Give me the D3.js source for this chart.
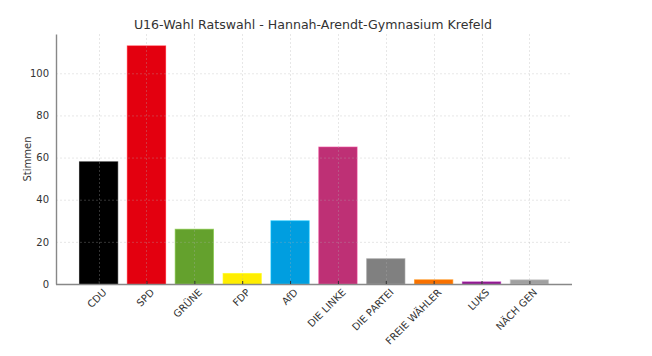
<!DOCTYPE html>
<html><head><meta charset="utf-8">
<script src="https://cdn.jsdelivr.net/npm/d3@7"></script>
<style>body{margin:0;background:#fff}svg{display:block}</style>
</head><body><svg id="c" width="652" height="356"></svg>
<script>
const categories = ["CDU","SPD","GRÜNE","FDP","AfD","DIE LINKE","DIE PARTEI","FREIE WÄHLER","LUKS","NÄCH GEN"];
const votes = [58,113,26,5,30,65,12,2,1,2];
const colors = ["#000000","#E3000F","#64A12D","#FFED00","#009EE0","#BE3075","#808080","#F97000","#8B1A8B","#A0A0A0"];
const yTicks = [0,20,40,60,80,100];
const title = "U16-Wahl Ratswahl - Hannah-Arendt-Gymnasium Krefeld";
const yLabel = "Stimmen";

const svg = d3.select("#c");
const L = 56, R = 572, T = 34, B = 284;
const font = "DejaVu Sans, sans-serif";

const x = d3.scaleLinear().domain([-0.89, categories.length - 1 + 0.89]).range([L, R]);
const y = d3.scaleLinear().domain([0, d3.max(votes) * 1.05]).range([B, T]);
const bw = x(0.8) - x(0);

// bars
svg.append("g").selectAll("rect").data(votes).join("rect")
  .attr("x", (d, i) => x(i) - bw / 2)
  .attr("y", d => y(d))
  .attr("width", bw)
  .attr("height", d => y(0) - y(d))
  .attr("fill", (d, i) => colors[i])
  .attr("stroke", (d, i) => d3.color(colors[i]).brighter(0.6))
  .attr("stroke-opacity", 0.6)
  .attr("stroke-width", 1);

// grid (over bars)
const grid = svg.append("g");
grid.selectAll("line.h").data(yTicks).join("line")
  .attr("x1", L).attr("x2", R)
  .attr("y1", d => y(d) + 0.5).attr("y2", d => y(d) + 0.5)
  .attr("stroke", "#b0b0b0").attr("stroke-opacity", 0.3)
  .attr("stroke-dasharray", "2,2").attr("stroke-width", 1);
grid.selectAll("line.v").data(categories).join("line")
  .attr("x1", (d, i) => Math.round(x(i)) + 0.5).attr("x2", (d, i) => Math.round(x(i)) + 0.5)
  .attr("y1", T).attr("y2", B)
  .attr("stroke", "#b0b0b0").attr("stroke-opacity", 0.3)
  .attr("stroke-dasharray", "2,2").attr("stroke-width", 1);

// y axis
const ya = svg.append("g").attr("transform", `translate(${L},0)`)
  .call(d3.axisLeft(y).tickValues(yTicks).tickSize(0).tickPadding(7));
ya.select(".domain").attr("stroke", "#888").attr("stroke-width", 1.4);
ya.selectAll("text").attr("font-family", font).attr("font-size", 10).attr("fill", "#333");

// x axis
const xa = svg.append("g").attr("transform", `translate(0,${B})`)
  .call(d3.axisBottom(x).tickValues(d3.range(categories.length)).tickSize(-3)
    .tickFormat(i => categories[i]).tickSizeOuter(0));
xa.select(".domain").attr("stroke", "#888").attr("stroke-width", 1.4).attr("d", `M${L},0.5H${R}`);
xa.selectAll(".tick line").attr("stroke", "#333");
xa.selectAll("text")
  .attr("font-family", font).attr("font-size", 10).attr("fill", "#333")
  .attr("text-anchor", "end")
  .attr("dy", 0).attr("y", 0)
  .attr("transform", "translate(8,9) rotate(-45)");

// title
svg.append("text").attr("x", 313).attr("y", 29).attr("text-anchor", "middle")
  .attr("font-family", font).attr("font-size", 12.6).attr("fill", "#333").text(title);

// y label
svg.append("text").attr("transform", `translate(31,${(T + B) / 2}) rotate(-90)`)
  .attr("text-anchor", "middle").attr("font-family", font).attr("font-size", 10).attr("fill", "#333")
  .text(yLabel);
</script></body></html>
